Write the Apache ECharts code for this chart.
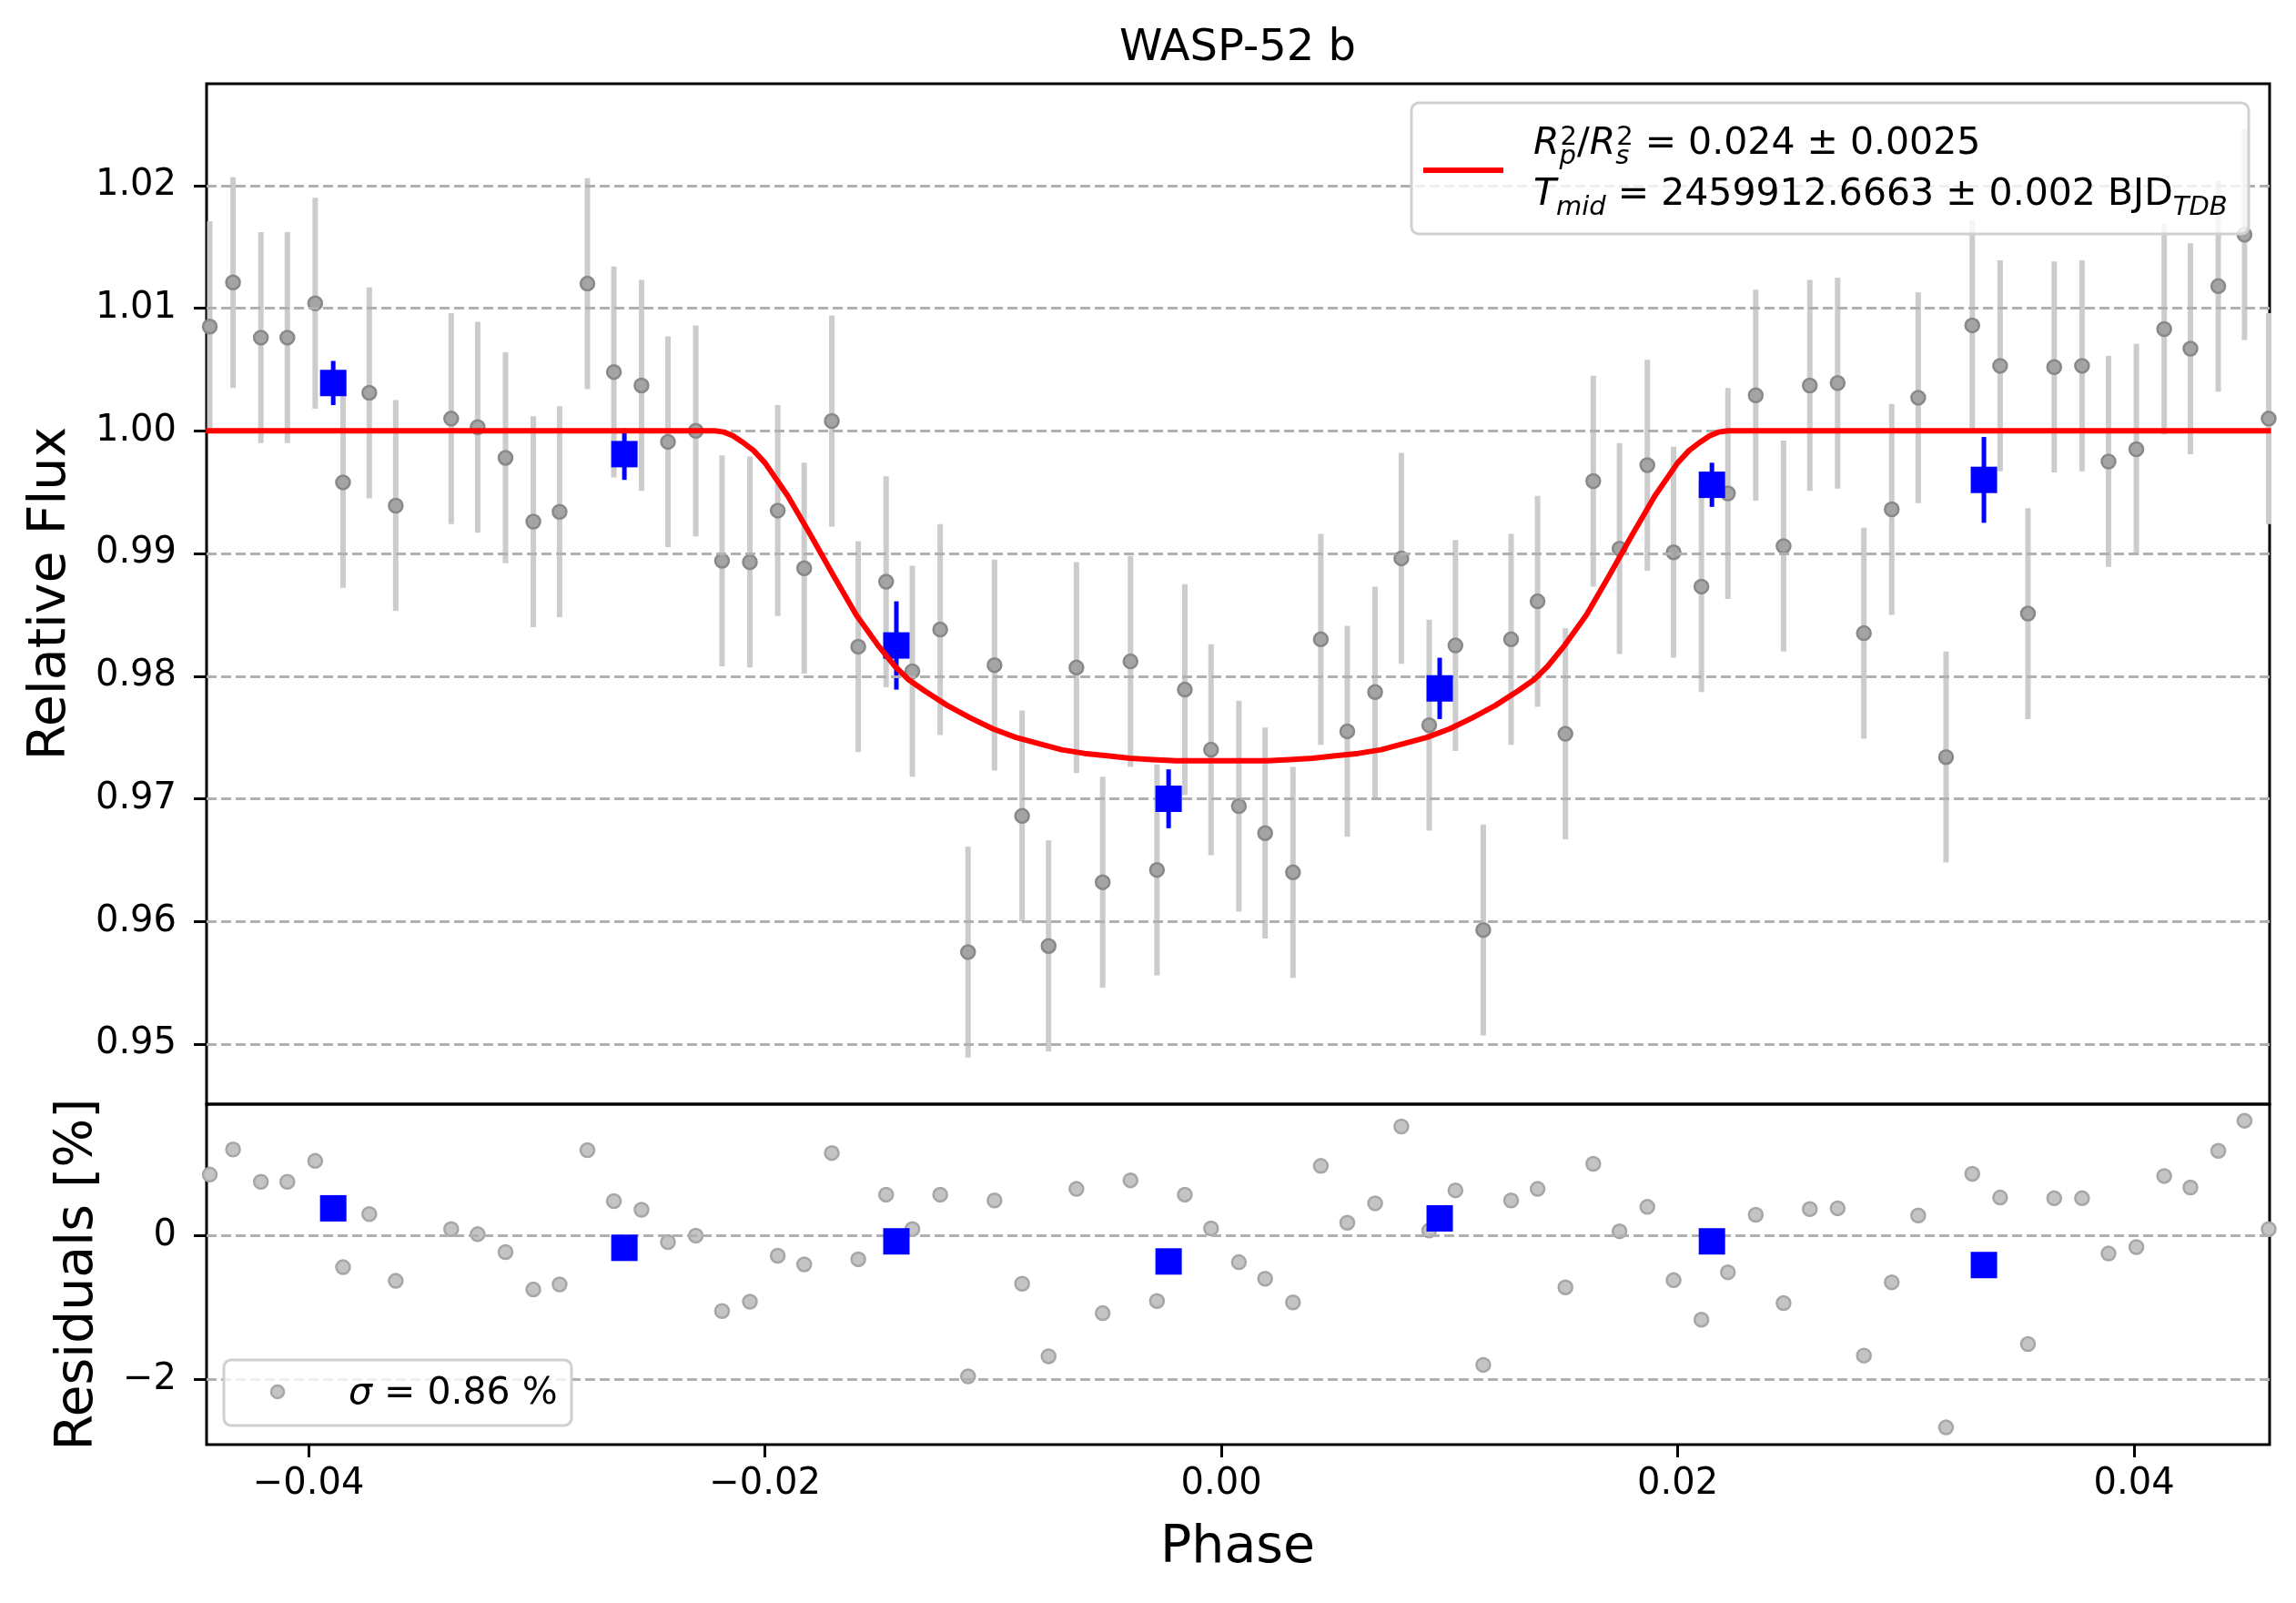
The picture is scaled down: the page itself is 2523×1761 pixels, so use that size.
<!DOCTYPE html>
<html><head><meta charset="utf-8">
<script src="https://cdn.jsdelivr.net/npm/echarts@6/dist/echarts.min.js"></script>
<style>html,body{margin:0;padding:0;background:#fff}#c{width:2523px;height:1761px}</style>
</head><body><div id="c"></div>
<script>
// ---- data ----
const phase = [-0.04433,-0.04331,-0.04209,-0.04093,-0.03971,-0.03849,-0.03734,-0.03618,-0.03375,-0.03259,
 -0.03137,-0.03015,-0.02900,-0.02778,-0.02662,-0.02541,-0.02425,-0.02303,-0.02188,-0.02066,
 -0.01944,-0.01828,-0.01707,-0.01591,-0.01469,-0.01354,-0.01232,-0.01110,-0.00994,-0.00873,
 -0.00757,-0.00635,-0.00520,-0.00398,-0.00282,-0.00160,-0.00045,0.00077,0.00192,0.00314,
 0.00436,0.00552,0.00674,0.00789,0.00911,0.01026,0.01148,0.01270,0.01386,0.01508,
 0.01630,0.01745,0.01867,0.01982,0.02104,0.02220,0.02342,0.02464,0.02579,0.02701,
 0.02816,0.02938,0.03054,0.03176,0.03291,0.03413,0.03535,0.03650,0.03772,0.03888,
 0.04010,0.04132,0.04247,0.04369,0.04484,0.04590];
const flux = [1.0085,1.0121,1.0076,1.0076,1.0104,0.9958,1.0031,0.9939,1.0010,1.0003,
 0.9978,0.9926,0.9934,1.0120,1.0048,1.0037,0.9991,1.0000,0.9894,0.9893,
 0.9935,0.9888,1.0008,0.9824,0.9877,0.9804,0.9838,0.9575,0.9809,0.9686,
 0.9580,0.9807,0.9632,0.9812,0.9642,0.9789,0.9740,0.9694,0.9672,0.9640,
 0.9830,0.9755,0.9787,0.9896,0.9760,0.9825,0.9593,0.9830,0.9861,0.9753,
 0.9959,0.9904,0.9972,0.9901,0.9873,0.9949,1.0029,0.9906,1.0037,1.0039,
 0.9835,0.9936,1.0027,0.9734,1.0086,1.0053,0.9851,1.0052,1.0053,0.9975,
 0.9985,1.0083,1.0067,1.0118,1.0160,1.0010];
const fluxErr = 0.0086;
const residual = [0.85,1.20,0.75,0.75,1.04,-0.44,0.30,-0.63,0.09,0.02,
 -0.23,-0.75,-0.68,1.19,0.48,0.36,-0.09,0.00,-1.05,-0.92,
 -0.28,-0.40,1.15,-0.33,0.57,0.09,0.57,-1.96,0.49,-0.67,
 -1.68,0.65,-1.08,0.77,-0.91,0.57,0.10,-0.37,-0.60,-0.93,
 0.97,0.18,0.45,1.52,0.07,0.63,-1.80,0.49,0.65,-0.72,
 1.00,0.06,0.40,-0.62,-1.17,-0.51,0.29,-0.94,0.37,0.38,
 -1.67,-0.65,0.28,-2.67,0.86,0.53,-1.51,0.52,0.52,-0.25,
 -0.16,0.83,0.67,1.18,1.60,0.09];
const binPhase = [-0.03892,-0.02616,-0.01424,-0.00231,0.00957,0.02150,0.03342];
const binFlux = [1.0039,0.9981,0.9825,0.9700,0.9790,0.9956,0.9960];
const binErr = [0.0018,0.0021,0.0036,0.0024,0.0025,0.0018,0.0035];
const binResidual = [0.38,-0.17,-0.08,-0.36,0.24,-0.08,-0.41];
const modelPhase = [-0.0445,-0.0222,-0.0218,-0.0214,-0.0210,-0.0205,-0.0200,-0.0190,-0.0180,-0.0170,-0.0160,-0.0150,-0.0143,-0.0137,
 -0.0130,-0.0120,-0.0110,-0.0100,-0.0090,-0.0080,-0.0070,-0.0060,-0.0050,-0.0040,-0.0030,-0.0020,-0.0010,0.0000,
 0.0010,0.0020,0.0030,0.0040,0.0050,0.0060,0.0070,0.0080,0.0090,0.0100,0.0110,0.0120,0.0130,
 0.0137,0.0143,0.0150,0.0160,0.0170,0.0180,0.0190,0.0200,0.0205,0.0210,0.0214,0.0218,0.0222,0.0460];
const modelFlux = [1.0000,1.0000,0.9999,0.9996,0.9991,0.9984,0.9974,0.9947,0.9915,0.9882,0.9850,0.9824,0.9808,0.9797,
 0.9788,0.9776,0.9766,0.9757,0.9750,0.9745,0.9740,0.9737,0.9735,0.9733,0.9732,0.9731,0.9731,0.9731,
 0.9731,0.9731,0.9732,0.9733,0.9735,0.9737,0.9740,0.9745,0.9750,0.9757,0.9766,0.9776,0.9788,
 0.9797,0.9808,0.9824,0.9850,0.9882,0.9915,0.9947,0.9974,0.9984,0.9991,0.9996,0.9999,1.0000,1.0000];
const fluxTicks = [0.95,0.96,0.97,0.98,0.99,1.00,1.01,1.02];
const residTicks = [-2,0];
const phaseTicks = [-0.04,-0.02,0.00,0.02,0.04];

// ---- chart ----
const FONT = 'DejaVu Sans';
const XMIN = -0.04447, XMAX = 0.04594;
function fmt(v, d){ return (v < 0 ? '\u2212' : '') + Math.abs(v).toFixed(d); }
function errBars(xs, ys, errs, color, width, xi, yi, z){
  return {
    type:'custom', xAxisIndex:xi, yAxisIndex:yi, z:z, silent:true,
    data: xs.map((x,i)=>[x, ys[i]-errs[i], ys[i]+errs[i]]),
    encode:{x:0, y:[1,2]},
    renderItem:(params, api)=>{
      const lo = api.coord([api.value(0), api.value(1)]);
      const hi = api.coord([api.value(0), api.value(2)]);
      return {type:'line', shape:{x1:lo[0],y1:lo[1],x2:hi[0],y2:hi[1]}, style:{stroke:color, lineWidth:width}};
    }
  };
}
const gridLineStyle = {color:'#b0b0b0', type:[11,5], width:3};
function gridMarks(vals){
  return {silent:true, symbol:['none','none'], label:{show:false}, animation:false,
    lineStyle:gridLineStyle, emphasis:{disabled:true}, data: vals.map(v=>({yAxis:v}))};
}
const tickStyle = {show:true, inside:false, length:14, lineStyle:{color:'#000', width:3}};
const labelStyle = {color:'#000', fontSize:40, fontFamily:FONT};

const chart = echarts.init(document.getElementById('c'), null, {renderer:'canvas', width:2523, height:1761});
chart.setOption({
  animation:false,
  backgroundColor:'#ffffff',
  title:{text:'WASP-52 b', left:1360, top:30, textAlign:'center', padding:0,
    textStyle:{fontSize:48, fontWeight:'normal', fontFamily:FONT, color:'#000'}},
  grid:[
    {left:227, top:92, width:2267, height:1121, show:true, borderColor:'#000', borderWidth:3, backgroundColor:'transparent', outerBoundsMode:'none'},
    {left:227, top:1213, width:2267, height:374, show:true, borderColor:'#000', borderWidth:3, backgroundColor:'transparent', outerBoundsMode:'none'}
  ],
  xAxis:[
    {gridIndex:0, type:'value', min:XMIN, max:XMAX, show:false},
    {gridIndex:1, type:'value', min:XMIN, max:XMAX,
     axisLine:{show:false, onZero:false},
     axisTick:Object.assign({customValues:phaseTicks}, tickStyle),
     axisLabel:Object.assign({customValues:phaseTicks, margin:24, formatter:v=>fmt(v,2)}, labelStyle),
     splitLine:{show:false}}
  ],
  yAxis:[
    {gridIndex:0, type:'value', min:0.9451, max:1.0283,
     axisLine:{show:false, onZero:false},
     axisTick:Object.assign({customValues:fluxTicks}, tickStyle),
     axisLabel:Object.assign({customValues:fluxTicks, margin:33, formatter:v=>fmt(v,2)}, labelStyle),
     splitLine:{show:false}},
    {gridIndex:1, type:'value', min:-2.91, max:1.83,
     axisLine:{show:false, onZero:false},
     axisTick:Object.assign({customValues:residTicks}, tickStyle),
     axisLabel:Object.assign({customValues:residTicks, margin:33, formatter:v=>fmt(v,0)}, labelStyle),
     splitLine:{show:false}}
  ],
  series:[
    Object.assign(errBars(phase, flux, phase.map(()=>fluxErr), '#cccccc', 6, 0, 0, 1), {markLine:gridMarks(fluxTicks)}),
    {type:'scatter', xAxisIndex:0, yAxisIndex:0, z:2, silent:true, symbol:'circle', symbolSize:15,
     itemStyle:{color:'#a4a4a4', borderColor:'#888888', borderWidth:2.5, opacity:1},
     data: phase.map((x,i)=>[x, flux[i]])},
    {type:'line', xAxisIndex:0, yAxisIndex:0, z:6, silent:true, showSymbol:false, symbol:'none',
     lineStyle:{color:'#ff0000', width:6}, data: modelPhase.map((x,i)=>[x, modelFlux[i]])},
    errBars(binPhase, binFlux, binErr, '#0000ff', 5, 0, 0, 4),
    {type:'scatter', xAxisIndex:0, yAxisIndex:0, z:5, silent:true, symbol:'rect', symbolSize:29,
     itemStyle:{color:'#0000ff', opacity:1}, data: binPhase.map((x,i)=>[x, binFlux[i]])},
    {type:'scatter', xAxisIndex:1, yAxisIndex:1, z:2, silent:true, symbol:'circle', symbolSize:15,
     itemStyle:{color:'#c4c4c4', borderColor:'#a6a6a6', borderWidth:2.5, opacity:1},
     data: phase.map((x,i)=>[x, residual[i]]), markLine:gridMarks(residTicks)},
    {type:'scatter', xAxisIndex:1, yAxisIndex:1, z:5, silent:true, symbol:'rect', symbolSize:29,
     itemStyle:{color:'#0000ff', opacity:1}, data: binPhase.map((x,i)=>[x, binResidual[i]])}
  ],
  graphic:[
    {type:'text', x:56, y:652, rotation:Math.PI/2, z:50,
     style:{text:'Relative Flux', fontSize:57, fontFamily:FONT, fill:'#000', align:'center', verticalAlign:'middle'}},
    {type:'text', x:86, y:1400, rotation:Math.PI/2, z:50,
     style:{text:'Residuals [%]', fontSize:57, fontFamily:FONT, fill:'#000', align:'center', verticalAlign:'middle'}},
    {type:'text', x:1360, y:1701, z:50,
     style:{text:'Phase', fontSize:57, fontFamily:FONT, fill:'#000', align:'center', verticalAlign:'middle'}},
    // top legend
    {type:'rect', z:100, shape:{x:1551, y:113, width:920, height:144, r:8},
     style:{fill:'rgba(255,255,255,0.8)', stroke:'#d0d0d0', lineWidth:3}},
    {type:'line', z:101, shape:{x1:1564, y1:187, x2:1652, y2:187}, style:{stroke:'#ff0000', lineWidth:6}},
    {type:'text', z:101, x:1685, y:158,
     style:{text:'{i|R}{sb|p}{sp|2}{n|/}{i|R}{sb|s}{sp|2}{n| = 0.024 \u00b1 0.0025}',
       align:'left', verticalAlign:'middle', fill:'#000',
       rich:{
         i:{fontFamily:FONT, fontStyle:'italic', fontSize:41, lineHeight:58, fill:'#000'},
         n:{fontFamily:FONT, fontSize:41, lineHeight:58, fill:'#000'},
         sb:{fontFamily:FONT, fontStyle:'italic', fontSize:29, width:1, verticalAlign:'bottom', fill:'#000'},
         sp:{fontFamily:FONT, fontSize:29, verticalAlign:'top', padding:[8,0,0,0], fill:'#000'}
       }}},
    {type:'text', z:101, x:1685, y:214,
     style:{text:'{i|T}{sb|mid}{n| = 2459912.6663 \u00b1 0.002 BJD}{sb|TDB}',
       align:'left', verticalAlign:'middle', fill:'#000',
       rich:{
         i:{fontFamily:FONT, fontStyle:'italic', fontSize:41, lineHeight:58, fill:'#000'},
         n:{fontFamily:FONT, fontSize:41, lineHeight:58, fill:'#000'},
         sb:{fontFamily:FONT, fontStyle:'italic', fontSize:29, verticalAlign:'bottom', fill:'#000'}
       }}},
    // residual legend
    {type:'rect', z:100, shape:{x:246, y:1494, width:382, height:72, r:8},
     style:{fill:'rgba(255,255,255,0.8)', stroke:'#d0d0d0', lineWidth:3}},
    {type:'circle', z:101, shape:{cx:305, cy:1529, r:7}, style:{fill:'#c4c4c4', stroke:'#a6a6a6', lineWidth:2.5}},
    {type:'text', z:101, x:383, y:1531,
     style:{text:'{i|\u03c3}{n| = 0.86 %}', align:'left', verticalAlign:'middle', fill:'#000',
       rich:{
         i:{fontFamily:FONT, fontStyle:'italic', fontSize:41, lineHeight:56, fill:'#000'},
         n:{fontFamily:FONT, fontSize:41, lineHeight:56, fill:'#000'}
       }}}
  ]
});
</script>
</body></html>
